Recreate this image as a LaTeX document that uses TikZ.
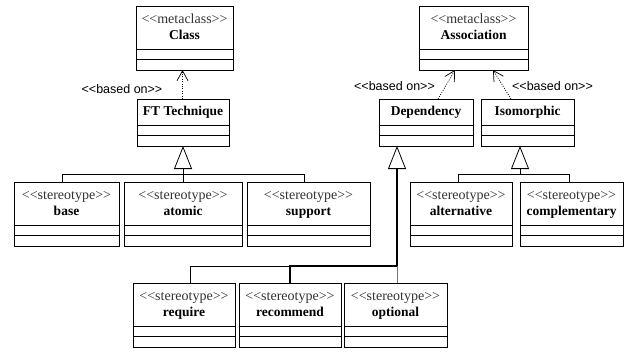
\documentclass[tikz,border=0pt]{standalone}
\usepackage{fontspec}
\setmainfont{Liberation Serif}
\newfontfamily\umlsans{Liberation Sans}
\usetikzlibrary{arrows.meta,calc}
\newcommand{\dlt}{<\kern0pt<}
\newcommand{\dgt}{>\kern0pt>}
\tikzset{
  umlrect/.style={draw=black, line width=0.9pt, rectangle, inner sep=0pt, outer sep=0pt, anchor=north west},
  stereotxt/.style={inner sep=0pt, anchor=base, text=black!80, font=\rmfamily\mdseries\fontsize{14}{14}\selectfont},
  nametxt/.style={inner sep=0pt, anchor=base, text=black, font=\rmfamily\bfseries\fontsize{13.5}{13.5}\selectfont},
  basedon/.style={inner sep=0pt, text=black, font=\umlsans\fontsize{12.5}{12.5}\selectfont},
  compline/.style={draw=black, line width=0.9pt},
  conn/.style={draw=black, line width=0.8pt},
  gen/.style={conn, -{Triangle[open, length=23pt, width=18pt, line width=0.8pt]}},
  genthick/.style={draw=black, line width=1.8pt, -{Triangle[open, length=23pt, width=18pt, line width=0.8pt]}},
  greyline/.style={draw=black!55, line width=0.8pt},
  dep/.style={draw=black, line width=0.7pt, dash pattern=on 1pt off 1.4pt, -{Straight Barb[length=10pt, width=11pt, line width=0.7pt]}}
}
% name, left, top, right, bottom
\newcommand{\umlframe}[5]{%
  \node[umlrect, minimum width={(#4-#2)*1pt}, minimum height={(#5-#3)*1pt}] (#1) at (#2,#3) {};
  \draw[compline] ($(#1.south west)+(0,-21)$) -- ($(#1.south east)+(1,-21)$);
  \draw[compline] ($(#1.south west)+(0,-11)$) -- ($(#1.south east)+(1,-11)$);
}
% name, left, top, right, bottom, stereotype, title
\newcommand{\umlstereo}[7]{%
  \umlframe{#1}{#2}{#3}{#4}{#5}
  \node[stereotxt] (#1-s) at ($(#1.north)+(0,17.5)$) {\dlt #6\dgt};
  \node[nametxt] (#1-t) at ($(#1.north)+(0,33.5)$) {#7};
}
% name, left, top, right, bottom, title
\newcommand{\umlplain}[6]{%
  \umlframe{#1}{#2}{#3}{#4}{#5}
  \node[nametxt] (#1-t) at ($(#1.north)+(0,16.5)$) {#6};
}
\begin{document}
\begin{tikzpicture}[x=1pt, y=-1pt]
\useasboundingbox (0,0) rectangle (628,351);
\fill[white] (0,0) rectangle (628,351);

\umlstereo{cls}{136}{6}{233}{70}{metaclass}{Class}
\umlstereo{assoc}{419}{6}{528}{70}{metaclass}{Association}
\umlplain{ft}{137}{99}{229}{146}{FT Technique}
\umlplain{dep}{379}{99}{473}{146}{Dependency}
\umlplain{iso}{481}{99}{574}{146}{Isomorphic}
\umlstereo{base}{14}{182}{119}{246}{stereotype}{base}
\umlstereo{atomic}{124}{182}{242}{246}{stereotype}{atomic}
\umlstereo{support}{247}{182}{370}{246}{stereotype}{support}
\umlstereo{alt}{410}{182}{512}{246}{stereotype}{alternative}
\umlstereo{comp}{520}{182}{623}{246}{stereotype}{complementary}
\umlstereo{req}{133}{283}{235}{347}{stereotype}{require}
\umlstereo{rec}{239}{283}{341}{347}{stereotype}{recommend}
\umlstereo{opt}{344}{283}{447}{347}{stereotype}{optional}

% based on dependencies
\draw[dep] ([xshift=-0.5pt]ft.north) -- ([xshift=-0.5pt]ft.north |- cls.south);
\draw[dep] ([xshift=12pt]dep.north) -- ([xshift=-18.5pt]assoc.south);
\draw[dep] ([xshift=-16.5pt]iso.north) -- ([xshift=19.5pt]assoc.south);
\node[basedon] (lb1) at (122,89) {\dlt based on\dgt};
\node[basedon] (lb2) at (394.5,86) {\dlt based on\dgt};
\node[basedon] (lb3) at (552.5,86) {\dlt based on\dgt};

% FT Technique generalization
\coordinate (ftbus) at (183,174);
\draw[gen] (atomic.north) -- (ft.south);
\draw[conn] ([xshift=-4.5pt]base.north) |- ([xshift=-4.5pt]support.north |- ftbus) -- ([xshift=-4.5pt]support.north);

% Isomorphic generalization
\coordinate (isobus) at (520,174);
\draw[gen] (isobus) -- (isobus |- iso.south);
\draw[conn] ([xshift=-3pt]alt.north) |- ([xshift=-2.5pt]comp.north |- isobus) -- ([xshift=-2.5pt]comp.north);

% Dependency generalization
\coordinate (depbus) at (397,266);
\draw[genthick] (rec.north) |- (depbus) -- (depbus |- dep.south);
\draw[conn] ([xshift=6pt]req.north) |- (rec.north |- depbus);
\draw[greyline] (depbus) -- (depbus |- opt.north);
\end{tikzpicture}
\end{document}
